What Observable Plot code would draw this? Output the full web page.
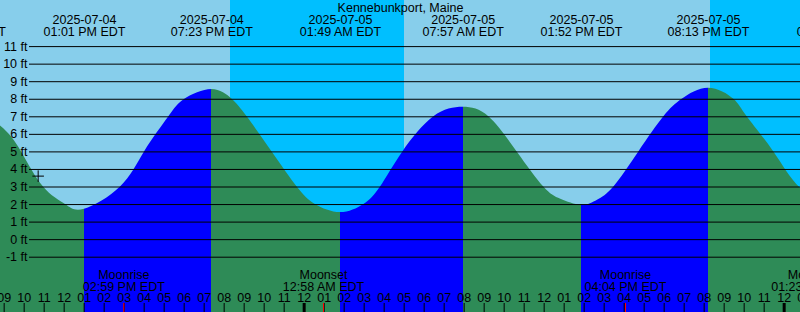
<!DOCTYPE html>
<html><head><meta charset="utf-8">
<script src="https://cdn.jsdelivr.net/npm/d3@7"></script>
<script src="https://cdn.jsdelivr.net/npm/@observablehq/plot@0.6"></script>
<style>
html,body{margin:0;padding:0;background:#fff;overflow:hidden;}
#chart svg{display:block;}
</style></head><body><div id="chart"></div>
<script>
const title = "Kennebunkport, Maine";
const tz = "EDT";
const viewStart = "2025-07-04T08:49";
const viewEnd = "2025-07-06T00:49";

// tide extremes (high / low)
const extremeTimes = ["2025-07-04T07:03","2025-07-04T13:01","2025-07-04T19:23","2025-07-05T01:49","2025-07-05T07:57","2025-07-05T13:52","2025-07-05T20:13","2025-07-06T02:40"];
const extremeHeights = [7.8, 1.73, 8.56, 1.54, 7.54, 1.96, 8.63, 1.6];
const extremeTypes = ["high","low","high","low","high","low","high","low"];

// tide heights (ft)
const curveTimes = [
  "2025-07-04T08:49","2025-07-04T09:52","2025-07-04T10:58","2025-07-04T12:04",
  "2025-07-04T14:49","2025-07-04T16:01","2025-07-04T17:14","2025-07-04T18:02",
  "2025-07-04T20:24","2025-07-04T21:09","2025-07-04T22:24","2025-07-04T23:39","2025-07-05T00:34",
  "2025-07-05T02:59","2025-07-05T03:49","2025-07-05T04:56","2025-07-05T06:29",
  "2025-07-05T09:14","2025-07-05T10:39","2025-07-05T11:59","2025-07-05T12:50",
  "2025-07-05T14:40","2025-07-05T15:29","2025-07-05T16:44","2025-07-05T17:59","2025-07-05T18:54",
  "2025-07-05T21:29","2025-07-05T22:09","2025-07-05T23:29","2025-07-06T00:49"
];
const curveHeights = [
  6.47, 5.0, 3.0, 2.0,
  3.0, 5.0, 7.0, 8.0,
  8.0, 7.0, 5.0, 3.0, 2.0,
  2.0, 3.0, 5.0, 7.0,
  7.0, 5.0, 3.0, 2.3,
  2.25, 3.0, 5.0, 7.0, 8.0,
  8.0, 7.0, 5.0, 2.93
];

// sun (day/night background)
const sunTimes = ["2025-07-04T20:19","2025-07-05T05:01","2025-07-05T20:19"];
const sunTypes = ["sunset","sunrise","sunset"];

// moon events
const moonTimes = ["2025-07-04T14:59","2025-07-05T00:58","2025-07-05T16:04","2025-07-06T01:23"];
const moonTypes = ["Moonrise","Moonset","Moonrise","Moonset"];

// marker "+"
const markTime = "2025-07-04T10:42";
const markHeight = 3.62;

// axis ticks
const ftTicks = [-1,0,1,2,3,4,5,6,7,8,9,10,11];
const firstHourTick = "2025-07-04T09:00";
const lastHourTick = "2025-07-06T01:00";
const midnights = ["2025-07-05T00:00","2025-07-06T00:00"];

const colors = {day:"#87ceeb", night:"#00bfff", rising:"#0000ff", falling:"#2e8b57", text:"#000"};

// ---- helpers ----
const hrs = s => {
  const day = +s.slice(8,10) - 4;
  const [H, M] = s.slice(11).split(":").map(Number);
  return day*24 + H + M/60;
};
const pad = n => String(n).padStart(2,"0");
const fmt12 = s => {
  const [H, M] = s.slice(11).split(":").map(Number);
  const h = H % 12 === 0 ? 12 : H % 12;
  return `${pad(h)}:${pad(M)} ${H < 12 ? "AM" : "PM"} ${tz}`;
};

const x0 = hrs(viewStart), x1 = hrs(viewEnd);
const yDomain = [-4.151, 13.627];

const extremes = extremeTimes.map((s,i) => ({t: hrs(s), s, h: extremeHeights[i], type: extremeTypes[i]}));
const points = extremes.map(d => ({t: d.t, h: d.h}))
  .concat(curveTimes.map((s,i) => ({t: hrs(s), h: curveHeights[i]})))
  .sort((a,b) => a.t - b.t);

const sunEdges = [x0, ...sunTimes.map(hrs), x1];
const skyBands = [];
for (let i = 0; i < sunEdges.length - 1; i++) {
  const kind = i < sunTypes.length ? (sunTypes[i] === "sunset" ? "day" : "night") : (sunTypes[i-1] === "sunset" ? "night" : "day");
  skyBands.push({a: sunEdges[i], b: sunEdges[i+1], kind});
}

const moon = moonTimes.map((s,i) => ({t: hrs(s), s, type: moonTypes[i]}));
const hourTicks = d3.range(hrs(firstHourTick), hrs(lastHourTick) + 0.5, 1);
const hourLabel = h => pad((Math.round(h) % 24) % 12 || 12);

const font = "'Liberation Sans', Arial, Helvetica, sans-serif";

const chart = Plot.plot({
  width: 800, height: 312, margin: 0,
  x: {type: "linear", domain: [x0, x1], axis: null},
  y: {type: "linear", domain: yDomain, axis: null},
  style: {fontFamily: font, fontSize: "12.5px", color: colors.text, background: "transparent", overflow: "hidden"},
  marks: [
    Plot.rect(skyBands, {x1: "a", x2: "b", y1: yDomain[0], y2: yDomain[1], fill: d => colors[d.kind]}),
    Plot.areaY(points, {x: "t", y1: yDomain[0], y2: "h", fill: "url(#tideFill)", curve: "natural", clip: true}),
    Plot.ruleY(ftTicks, {y: d => d, stroke: "#000", strokeWidth: 1, insetLeft: 29}),
    Plot.text(ftTicks, {y: d => d, text: d => `${d} ft`, frameAnchor: "left", textAnchor: "end", dx: 27, lineAnchor: "middle", fill: colors.text}),
    Plot.text([title], {frameAnchor: "top", text: d => d, lineAnchor: "bottom", dy: 11.3, fill: colors.text}),
    Plot.text(extremes, {x: "t", text: d => d.s.slice(0,10), frameAnchor: "top", lineAnchor: "bottom", dy: 23.7, fill: colors.text}),
    Plot.text(extremes, {x: "t", text: d => fmt12(d.s), frameAnchor: "top", lineAnchor: "bottom", dy: 35.7, fill: colors.text}),
    Plot.text(moon, {x: "t", text: "type", frameAnchor: "bottom", lineAnchor: "bottom", dy: -33.7, fill: colors.text}),
    Plot.text(moon, {x: "t", text: d => fmt12(d.s), frameAnchor: "bottom", lineAnchor: "bottom", dy: -21.3, fill: colors.text}),
    Plot.text(hourTicks, {x: d => d, text: hourLabel, frameAnchor: "bottom", lineAnchor: "bottom", dy: -10.3, fill: colors.text}),
    Plot.tickX(hourTicks, {x: d => d, stroke: "#000", strokeWidth: 1, insetTop: 303}),
    Plot.tickX(midnights.map(hrs), {x: d => d, stroke: "#000", strokeWidth: 3, insetTop: 303}),
    Plot.tickX(moon, {x: "t", stroke: "#ff0000", strokeWidth: 1, insetTop: 303}),
    Plot.dot([{t: hrs(markTime), h: markHeight}], {x: "t", y: "h", symbol: "plus", r: 3.8, stroke: "#000", strokeWidth: 1})
  ]
});

// gradient with hard stops at each tide extreme: rising = blue, falling = green
const sx = chart.scale("x");
const grad = d3.select(chart).insert("defs", ":first-child")
  .append("linearGradient").attr("id", "tideFill")
  .attr("gradientUnits", "userSpaceOnUse")
  .attr("x1", 0).attr("x2", 800).attr("y1", 0).attr("y2", 0);
const after = d => d.type === "high" ? colors.falling : colors.rising;
const before = d => d.type === "high" ? colors.rising : colors.falling;
grad.append("stop").attr("offset", 0).attr("stop-color", before(extremes[0]));
for (const e of extremes) {
  const o = Math.max(0, Math.min(1, sx.apply(e.t) / 800));
  grad.append("stop").attr("offset", o).attr("stop-color", before(e));
  grad.append("stop").attr("offset", o).attr("stop-color", after(e));
}
grad.append("stop").attr("offset", 1).attr("stop-color", after(extremes[extremes.length-1]));

document.getElementById("chart").appendChild(chart);
</script>
</body></html>
